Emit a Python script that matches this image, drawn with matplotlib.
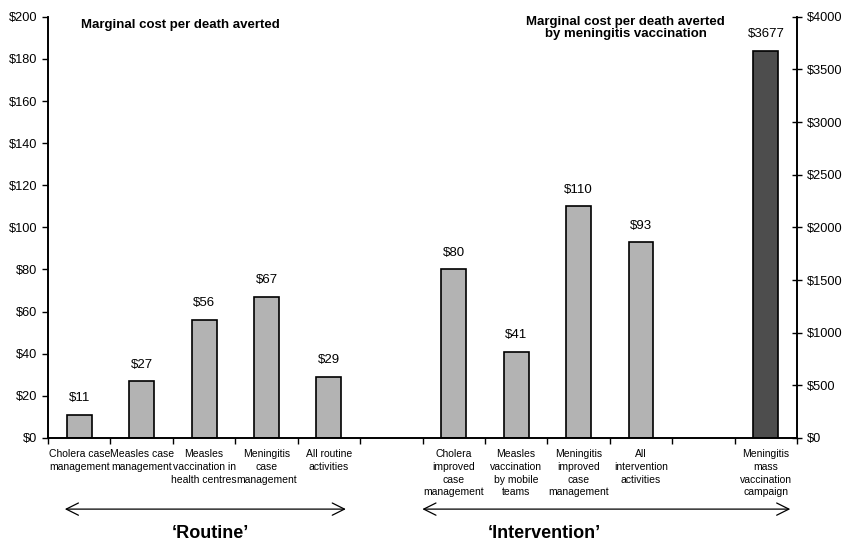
import matplotlib.pyplot as plt
import numpy as np

plt.rcParams['font.family'] = ['Liberation Sans', 'DejaVu Sans']

# slots 0-4 routine, 6-9 intervention, 11 mass vaccination (right axis)
labels = ['Cholera case\nmanagement', 'Measles case\nmanagement',
          'Measles\nvaccination in\nhealth centres', 'Meningitis\ncase\nmanagement',
          'All routine\nactivities', '',
          'Cholera\nimproved\ncase\nmanagement', 'Measles\nvaccination\nby mobile\nteams',
          'Meningitis\nimproved\ncase\nmanagement', 'All\nintervention\nactivities', '',
          'Meningitis\nmass\nvaccination\ncampaign']
left_pos = [0, 1, 2, 3, 4, 6, 7, 8, 9]
left_vals = [11, 27, 56, 67, 29, 80, 41, 110, 93]
right_pos = [11]
right_vals = [3677]

fig = plt.figure(figsize=(8.43, 5.42), dpi=100)
ax = fig.add_axes([0.057, 0.192, 0.8885, 0.777])
ax2 = ax.twinx()

ax.bar(left_pos, left_vals, width=0.4, color='#b3b3b3', edgecolor='black', linewidth=1.2)
ax2.bar(right_pos, right_vals, width=0.4, color='#4d4d4d', edgecolor='black', linewidth=1.2)

for x, v in zip(left_pos, left_vals):
    ax.text(x, v + 5, '$%d' % v, ha='center', va='bottom', fontsize=9.5)
for x, v in zip(right_pos, right_vals):
    ax2.text(x, v + 100, '$%d' % v, ha='center', va='bottom', fontsize=9.5)

ax.set_xlim(-0.5, 11.5)
ax.set_ylim(0, 200)
ax2.set_ylim(0, 4000)
ax.set_yticks(np.arange(0, 201, 20))
ax.set_yticklabels(['$%d' % t for t in np.arange(0, 201, 20)])
ax2.set_yticks(np.arange(0, 4001, 500))
ax2.set_yticklabels(['$%d' % t for t in np.arange(0, 4001, 500)])

ax.set_xticks(np.arange(-0.5, 11.6, 1))
ax.set_xticklabels([])
ax.set_xticks(np.arange(12), minor=True)
ax.set_xticklabels(labels, minor=True, fontsize=7.5, linespacing=1.35)
ax.tick_params(axis='x', which='major', direction='out', length=4, width=1)
ax.tick_params(axis='x', which='minor', length=0, pad=8)
ax.tick_params(axis='y', direction='out', length=4, width=1, labelsize=9.2)
ax2.tick_params(axis='y', direction='inout', length=7, width=1, labelsize=9.2)

for a in (ax, ax2):
    a.spines['top'].set_visible(False)
    for s in ('left', 'right', 'bottom'):
        a.spines[s].set_linewidth(1.2)

ax.text(0.044, 0.98, 'Marginal cost per death averted', transform=ax.transAxes,
        fontsize=9.5, fontweight='bold', va='center')
ax.text(0.771, 0.973, 'Marginal cost per death averted\nby meningitis vaccination',
        transform=ax.transAxes, fontsize=9.5, fontweight='bold', ha='center',
        va='center', linespacing=1.05)

# group arrows under the category labels
tr = ax.get_xaxis_transform()
arrow = dict(arrowstyle='<->', lw=0.9, color='black', mutation_scale=22)
ax.annotate('', xy=(-0.276, -0.169), xytext=(4.316, -0.169), xycoords=tr,
            textcoords=tr, arrowprops=arrow, annotation_clip=False)
ax.annotate('', xy=(5.452, -0.169), xytext=(11.436, -0.169), xycoords=tr,
            textcoords=tr, arrowprops=arrow, annotation_clip=False)
ax.text(2.1, -0.228, '\u2018Routine\u2019', transform=tr, ha='center', va='center',
        fontsize=13, fontweight='bold')
ax.text(7.45, -0.228, '\u2018Intervention\u2019', transform=tr, ha='center', va='center',
        fontsize=13, fontweight='bold')

fig.savefig('out.png', dpi=100)
